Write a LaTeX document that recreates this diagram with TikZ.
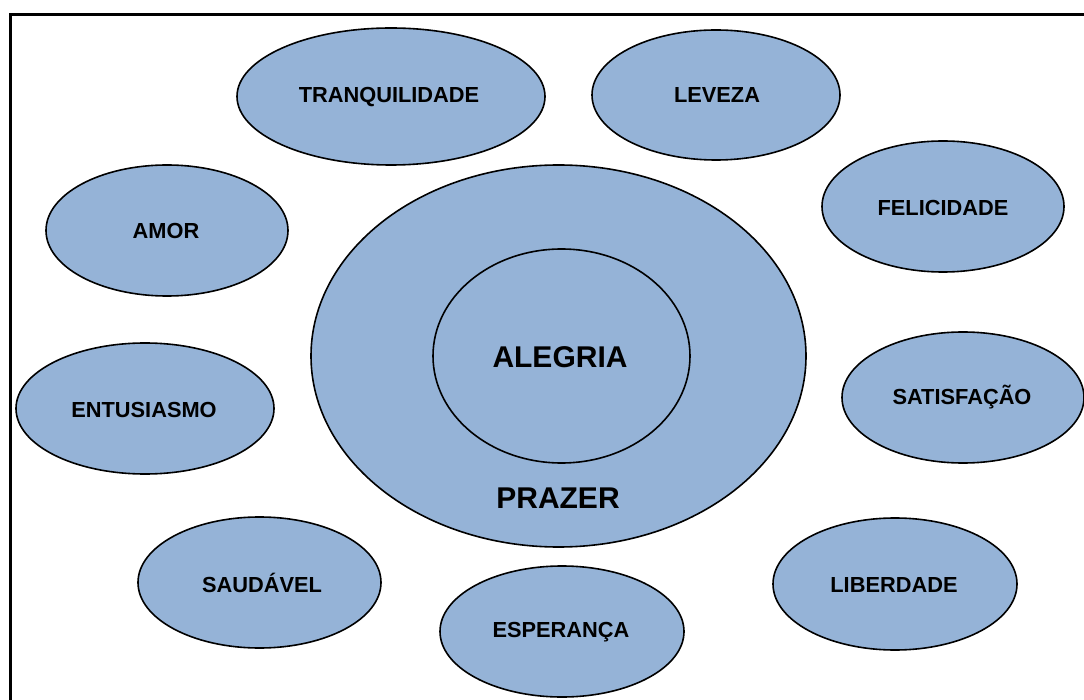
\documentclass[tikz,border=0pt]{standalone}
\usepackage{fontspec}
\setmainfont{Liberation Sans}
\usetikzlibrary{shapes.geometric}
\definecolor{bubble}{RGB}{149,179,215}
\tikzset{
  bub/.style={ellipse, draw=black, line width=1.6pt, fill=bubble, inner sep=0pt},
  lbl/.style={inner sep=0pt, font=\fontsize{21.8}{26}\selectfont\bfseries},
  biglbl/.style={inner sep=0pt, font=\fontsize{30}{34}\selectfont\bfseries}
}
\begin{document}
\begin{tikzpicture}[x=1pt,y=-1pt]
\useasboundingbox (0,0) rectangle (1084,700);
\fill[white] (0,0) rectangle (1084,700);
\coordinate (fa) at (1090,15);
\coordinate (fb) at (10,15);
\coordinate (fc) at (10,706);
\draw[line width=3pt] (fa) -- (fb) -- (fc);

\node[bub, minimum width=308pt, minimum height=137pt] (tranq) at (391,96.5) {};
\node[lbl] (ttranq) at (389,97.5) {TRANQUILIDADE};
\node[bub, minimum width=248pt, minimum height=130pt] (leveza) at (716,95) {};
\node[lbl] (tleveza) at (717,95.5) {LEVEZA};
\node[bub, minimum width=242pt, minimum height=131pt] (felic) at (943,206.5) {};
\node[lbl] (tfelic) at (943,208) {FELICIDADE};
\node[bub, minimum width=242pt, minimum height=131pt] (amor) at (167,230.5) {};
\node[lbl] (tamor) at (166,231) {AMOR};

\node[bub, minimum width=495pt, minimum height=382pt] (prazer) at (558.5,356) {};
\node[bub, minimum width=257pt, minimum height=214pt] (alegria) at (561.5,356) {};
\node[biglbl] (talegria) at (560,357) {ALEGRIA};
\node[biglbl] (tprazer) at (558,498) {PRAZER};

\node[bub, minimum width=258pt, minimum height=131pt] (entus) at (145,408.5) {};
\node[lbl] (tentus) at (144,410) {ENTUSIASMO};
\node[bub, minimum width=242pt, minimum height=131pt] (satis) at (963,397.5) {};
\node[lbl] (tsatis) at (962,397) {SATISFAÇÃO};
\node[bub, minimum width=243pt, minimum height=131pt] (saud) at (259.5,582.5) {};
\node[lbl] (tsaud) at (262,583) {SAUDÁVEL};
\node[bub, minimum width=244pt, minimum height=131pt] (esper) at (562,631.5) {};
\node[lbl] (tesper) at (561,632) {ESPERANÇA};
\node[bub, minimum width=244pt, minimum height=132pt] (liber) at (895,584) {};
\node[lbl] (tliber) at (894,585) {LIBERDADE};
\end{tikzpicture}
\end{document}
